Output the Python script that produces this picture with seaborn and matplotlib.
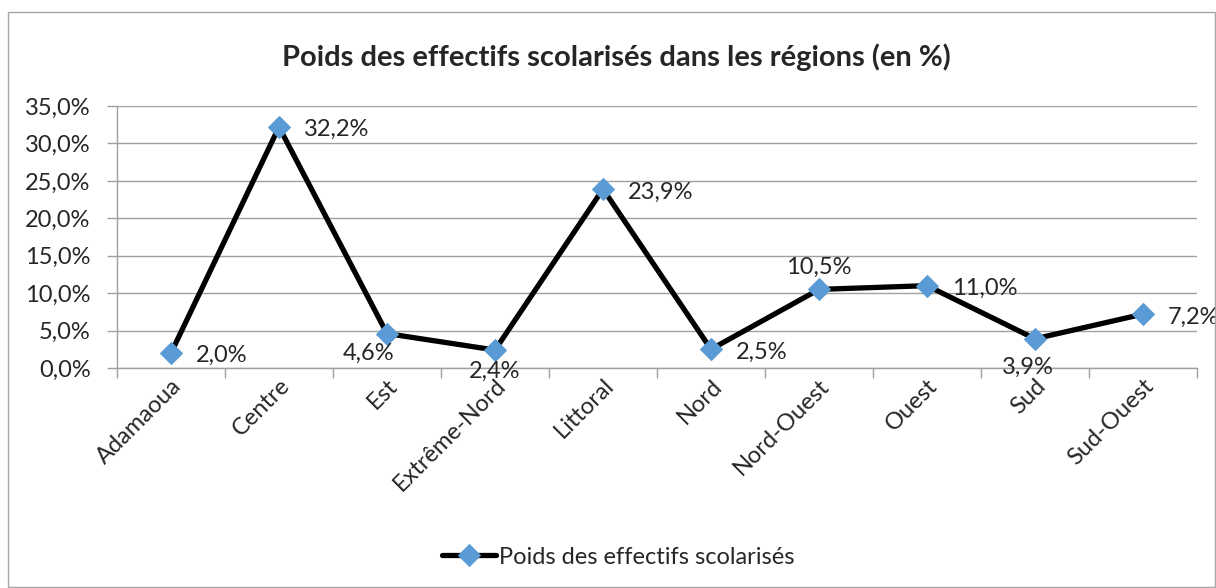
import matplotlib
matplotlib.use("Agg")
import matplotlib.pyplot as plt
import matplotlib.transforms as mtransforms
import seaborn as sns
import pandas as pd
from matplotlib.patches import Rectangle
from matplotlib.ticker import FixedLocator, FuncFormatter

# Data
regions = ["Adamaoua", "Centre", "Est", "Extrême-Nord", "Littoral",
           "Nord", "Nord-Ouest", "Ouest", "Sud", "Sud-Ouest"]
poids = [2.0, 32.2, 4.6, 2.4, 23.9, 2.5, 10.5, 11.0, 3.9, 7.2]
label_pos = ["right", "right", "lowleft", "below", "right",
             "right", "above", "right", "below2", "right"]

df = pd.DataFrame({"Region": regions, "Poids": poids})
df["x"] = range(len(df))

sns.set_style("white")
plt.rcParams["font.family"] = ["Lato", "DejaVu Sans"]

fig = plt.figure(figsize=(12.16, 5.88), dpi=100)
ax = fig.add_axes([117/1216, 1 - 368/588, (1197 - 117)/1216, (368 - 106)/588])

# outer chart border
fig.patches.append(Rectangle((8/1216, 0.002), 1 - 9/1216, 1 - 12/588 - 0.002,
                             transform=fig.transFigure, fill=False,
                             edgecolor="#a6a6a6", linewidth=1))

sns.lineplot(data=df, x="x", y="Poids", ax=ax, color="black", linewidth=3.8,
             marker="D", markersize=11, markerfacecolor="#5b9bd5",
             markeredgecolor="#5b9bd5", label="Poids des effectifs scolarisés",
             zorder=3)

ax.set_xlim(-0.5, len(regions) - 0.5)
ax.set_ylim(0, 35)
ax.set_yticks(range(0, 36, 5))
ax.yaxis.set_major_formatter(FuncFormatter(lambda v, p: f"{v:.1f}%".replace(".", ",")))
ax.grid(axis="y", color="#a0a0a0", linewidth=1)
ax.set_axisbelow(True)

ax.set_xticks(df["x"])
ax.set_xticklabels(regions, rotation=45, ha="right", va="top",
                   rotation_mode="anchor", fontsize=17)
shift = mtransforms.ScaledTranslation(6/100, 0, fig.dpi_scale_trans)
for lab in ax.get_xticklabels():
    lab.set_transform(lab.get_transform() + shift)
ax.xaxis.set_minor_locator(FixedLocator([i - 0.5 for i in range(len(regions) + 1)]))
ax.tick_params(axis="x", which="major", length=0, pad=5)
ax.tick_params(axis="x", which="minor", length=7, color="#a0a0a0", width=1, direction="out", bottom=True)
ax.tick_params(axis="y", length=7, color="#a0a0a0", width=1, direction="out", left=True, labelsize=17, pad=12)

for s in ["top", "right"]:
    ax.spines[s].set_visible(False)
for s in ["left", "bottom"]:
    ax.spines[s].set_color("#a0a0a0")
    ax.spines[s].set_linewidth(1)

ax.set_xlabel("")
ax.set_ylabel("")

offsets = {"right": (18, -2, "left", "center"),
           "lowleft": (5, -14, "right", "center"),
           "below": (0, -8, "center", "top"),
           "below2": (-5, -13, "center", "top"),
           "above": (0, 8, "center", "bottom")}
for xi, v, pos in zip(df["x"], poids, label_pos):
    dx, dy, ha, va = offsets[pos]
    ax.annotate(f"{v:.1f}%".replace(".", ","), (xi, v), xytext=(dx, dy),
                textcoords="offset points", ha=ha, va=va, fontsize=17,
                annotation_clip=False, clip_on=False)

fig.text(616/1216, 1 - 57/588, "Poids des effectifs scolarisés dans les régions (en %)",
         ha="center", va="center", fontsize=21, fontweight="bold")

leg = ax.legend(loc="center", bbox_to_anchor=(618/1216, 1 - 557/588),
                bbox_transform=fig.transFigure, frameon=False, fontsize=17,
                handlelength=2.3, handletextpad=0.1)

fig.savefig("out.png", dpi=100)
